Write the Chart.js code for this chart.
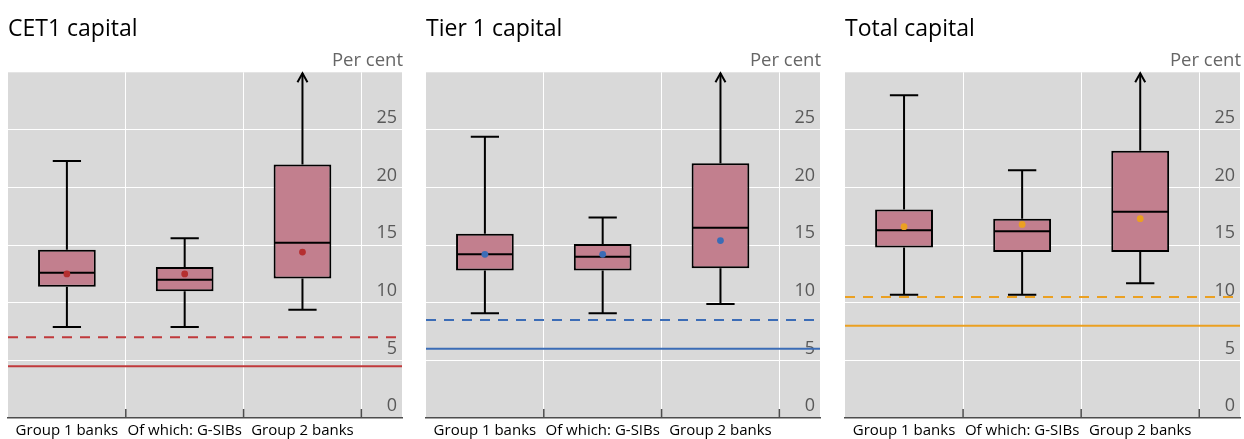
<!DOCTYPE html>
<html>
<head>
<meta charset="utf-8">
<script src="https://cdn.jsdelivr.net/npm/chart.js@4"></script>
<style>
  html, body { margin: 0; padding: 0; background: #ffffff; }
  #wrap { position: relative; width: 1244px; height: 439px; overflow: hidden; }
  #wrap canvas { position: absolute; top: 0; }
</style>
</head>
<body>
<div id="wrap">
  <canvas id="cet1" width="406" height="439" style="left:0px"></canvas>
  <canvas id="tier1" width="406" height="439" style="left:418px"></canvas>
  <canvas id="total" width="407" height="439" style="left:837px"></canvas>
</div>
<script>
// Bank groups shown on every panel
const categories = ['Group 1 banks', 'Of which: G-SIBs', 'Group 2 banks'];
const yTickValues = [0, 5, 10, 15, 20, 25, 30];

// CET1 capital ratios (per cent); null max = beyond the top of the axis
const cet1Min    = [7.9, 7.9, 9.4];
const cet1Q1     = [11.4, 11.0, 12.1];
const cet1Median = [12.6, 12.0, 15.2];
const cet1Q3     = [14.6, 13.1, 22.0];
const cet1Max    = [22.3, 15.6, null];
const cet1Mean   = [12.5, 12.5, 14.4];
const cet1Minimum = 4.5;
const cet1WithBuffer = 7.0;

// Tier 1 capital ratios (per cent)
const tier1Min    = [9.1, 9.1, 9.9];
const tier1Q1     = [12.8, 12.8, 13.0];
const tier1Median = [14.2, 14.0, 16.5];
const tier1Q3     = [16.0, 15.1, 22.1];
const tier1Max    = [24.4, 17.4, null];
const tier1Mean   = [14.2, 14.2, 15.4];
const tier1Minimum = 6.0;
const tier1WithBuffer = 8.5;

// Total capital ratios (per cent)
const totalMin    = [10.7, 10.7, 11.7];
const totalQ1     = [14.8, 14.4, 14.4];
const totalMedian = [16.3, 16.2, 17.9];
const totalQ3     = [18.1, 17.3, 23.2];
const totalMax    = [28.0, 21.5, null];
const totalMean   = [16.6, 16.8, 17.3];
const totalMinimum = 8.0;
const totalWithBuffer = 10.5;

const FONT = "'Open Sans', 'Noto Sans', sans-serif";
const BOX_FILL = '#c27f8e';
const PANEL_BG = '#d9d9d9';
const AXIS_DARK = '#4d4d4d';

function buildPanel(canvasId, titleText, stats, accent, minimumLevel, bufferLevel) {
  // Grey plotting background
  const background = {
    id: 'panelBackground',
    beforeDraw(chart) {
      const { ctx, chartArea: a } = chart;
      ctx.save();
      ctx.fillStyle = PANEL_BG;
      ctx.fillRect(a.left, a.top, a.right - a.left, a.bottom - a.top);
      ctx.restore();
    }
  };

  // Regulatory minimum (solid) and minimum plus buffer (dashed)
  const requirementLines = {
    id: 'requirementLines',
    beforeDatasetsDraw(chart) {
      const { ctx, chartArea: a, scales: { y } } = chart;
      ctx.save();
      ctx.strokeStyle = accent.line;
      ctx.lineWidth = 2;
      const yMin = y.getPixelForValue(minimumLevel);
      ctx.beginPath(); ctx.moveTo(a.left, yMin); ctx.lineTo(a.right, yMin); ctx.stroke();
      ctx.setLineDash([10, 8]);
      const yBuf = y.getPixelForValue(bufferLevel);
      ctx.beginPath(); ctx.moveTo(a.left, yBuf); ctx.lineTo(a.right, yBuf); ctx.stroke();
      ctx.restore();
    }
  };

  // Whiskers, caps and medians drawn right after the boxes
  const whiskers = {
    id: 'whiskers',
    afterDatasetDraw(chart, args) {
      if (args.meta.type !== 'bar') return;
      const { ctx, chartArea: a, scales: { x, y } } = chart;
      const step = x.getPixelForValue(1) - x.getPixelForValue(0);
      const capHalf = step * 0.12;
      ctx.save();
      ctx.strokeStyle = '#000';
      ctx.lineWidth = 2;
      ctx.lineCap = 'butt';
      categories.forEach((_, i) => {
        const cx = x.getPixelForValue(i);
        const pQ1 = y.getPixelForValue(stats.q1[i]);
        const pQ3 = y.getPixelForValue(stats.q3[i]);
        const pMin = y.getPixelForValue(stats.min[i]);
        // lower whisker and cap
        ctx.beginPath();
        ctx.moveTo(cx, pQ1); ctx.lineTo(cx, pMin);
        ctx.moveTo(cx - capHalf, pMin); ctx.lineTo(cx + capHalf, pMin);
        ctx.stroke();
        // upper whisker: cap, or arrow when it runs off the scale
        ctx.beginPath();
        if (stats.max[i] === null || stats.max[i] > y.max) {
          const top = a.top + 1;
          ctx.moveTo(cx, pQ3); ctx.lineTo(cx, top);
          ctx.stroke();
          ctx.beginPath();
          ctx.moveTo(cx - 5, top + 9); ctx.lineTo(cx, top); ctx.lineTo(cx + 5, top + 9);
          ctx.stroke();
        } else {
          const pMax = y.getPixelForValue(stats.max[i]);
          ctx.moveTo(cx, pQ3); ctx.lineTo(cx, pMax);
          ctx.moveTo(cx - capHalf, pMax); ctx.lineTo(cx + capHalf, pMax);
          ctx.stroke();
        }
        // median across the box
        const el = args.meta.data[i];
        const half = el.width / 2 - 1;
        const pMed = y.getPixelForValue(stats.median[i]);
        ctx.beginPath();
        ctx.moveTo(cx - half, pMed); ctx.lineTo(cx + half, pMed);
        ctx.stroke();
      });
      ctx.restore();
    }
  };

  // Short dark tick marks rising from the baseline at category boundaries
  const innerTicks = {
    id: 'innerTicks',
    afterDraw(chart) {
      const { ctx, chartArea: a, scales: { x } } = chart;
      ctx.save();
      ctx.strokeStyle = AXIS_DARK;
      ctx.lineWidth = 1.5;
      [0.5, 1.5, 2.5].forEach(v => {
        const px = x.getPixelForValue(v);
        ctx.beginPath(); ctx.moveTo(px, a.bottom - 9); ctx.lineTo(px, a.bottom); ctx.stroke();
      });
      ctx.restore();
    }
  };

  return new Chart(document.getElementById(canvasId), {
    type: 'bar',
    data: {
      datasets: [
        {
          type: 'scatter',
          label: 'Mean',
          data: stats.mean.map((v, i) => ({ x: i, y: v })),
          backgroundColor: accent.dot,
          borderColor: accent.dot,
          borderWidth: 0,
          pointRadius: 3.4,
          order: 0
        },
        {
          type: 'bar',
          label: 'Interquartile range',
          data: stats.q1.map((v, i) => ({ x: i, y: [v, stats.q3[i]] })),
          backgroundColor: BOX_FILL,
          borderColor: '#000',
          borderWidth: 2,
          borderSkipped: false,
          // ticks sit every half category, so a bar filling 98% of a tick step spans ~49% of a category
          barPercentage: 0.98,
          categoryPercentage: 1,
          order: 1
        }
      ]
    },
    options: {
      responsive: false,
      animation: false,
      events: [],
      layout: { padding: { left: 8, right: 3, top: 0, bottom: 0 } },
      plugins: {
        legend: { display: false },
        tooltip: { enabled: false },
        title: {
          display: true, text: titleText, align: 'start', color: '#000',
          font: { family: FONT, size: 23, weight: 'normal' },
          padding: { top: 15.5, bottom: 5 }
        },
        subtitle: {
          display: true, text: 'Per cent', align: 'end', color: '#666666',
          font: { family: FONT, size: 18.5, weight: 'normal' },
          padding: { top: 2, bottom: 0 }
        }
      },
      scales: {
        x: {
          type: 'linear',
          min: -0.5,
          max: 2.845,
          offset: false,
          afterBuildTicks: axis => {
            axis.ticks = [0, 0.5, 1, 1.5, 2, 2.5].map(v => ({ value: v }));
          },
          afterFit: axis => { axis.height = 21; },
          ticks: {
            autoSkip: false, maxRotation: 0, padding: 4, color: '#000',
            font: { family: FONT, size: 15 },
            callback: v => (Number.isInteger(v) ? categories[v] : '')
          },
          grid: {
            offset: false, drawTicks: false, lineWidth: 1,
            color: c => (c.tick && !Number.isInteger(c.tick.value) ? '#ffffff' : 'rgba(0,0,0,0)')
          },
          border: { display: true, color: AXIS_DARK, width: 1.5 }
        },
        y: {
          type: 'linear',
          position: 'right',
          min: yTickValues[0],
          max: yTickValues[yTickValues.length - 1],
          afterBuildTicks: axis => {
            axis.ticks = yTickValues.map(v => ({ value: v }));
          },
          afterFit: axis => { axis.width = 0; },
          ticks: {
            mirror: true, padding: -5, labelOffset: -12, color: '#595959',
            font: { family: FONT, size: 18 },
            callback: v => (v === yTickValues[yTickValues.length - 1] ? '' : v)
          },
          grid: {
            drawTicks: false, lineWidth: 1,
            color: c => (c.tick && c.tick.value > 0 && c.tick.value < 30 ? '#ffffff' : 'rgba(0,0,0,0)')
          },
          border: { display: false }
        }
      }
    },
    plugins: [background, requirementLines, whiskers, innerTicks]
  });
}

buildPanel('cet1', 'CET1 capital',
  { min: cet1Min, q1: cet1Q1, median: cet1Median, q3: cet1Q3, max: cet1Max, mean: cet1Mean },
  { line: '#c0393b', dot: '#b52f30' }, cet1Minimum, cet1WithBuffer);

buildPanel('tier1', 'Tier 1 capital',
  { min: tier1Min, q1: tier1Q1, median: tier1Median, q3: tier1Q3, max: tier1Max, mean: tier1Mean },
  { line: '#3b6cb6', dot: '#3b6cb6' }, tier1Minimum, tier1WithBuffer);

buildPanel('total', 'Total capital',
  { min: totalMin, q1: totalQ1, median: totalMedian, q3: totalQ3, max: totalMax, mean: totalMean },
  { line: '#eba021', dot: '#eba021' }, totalMinimum, totalWithBuffer);
</script>
</body>
</html>
